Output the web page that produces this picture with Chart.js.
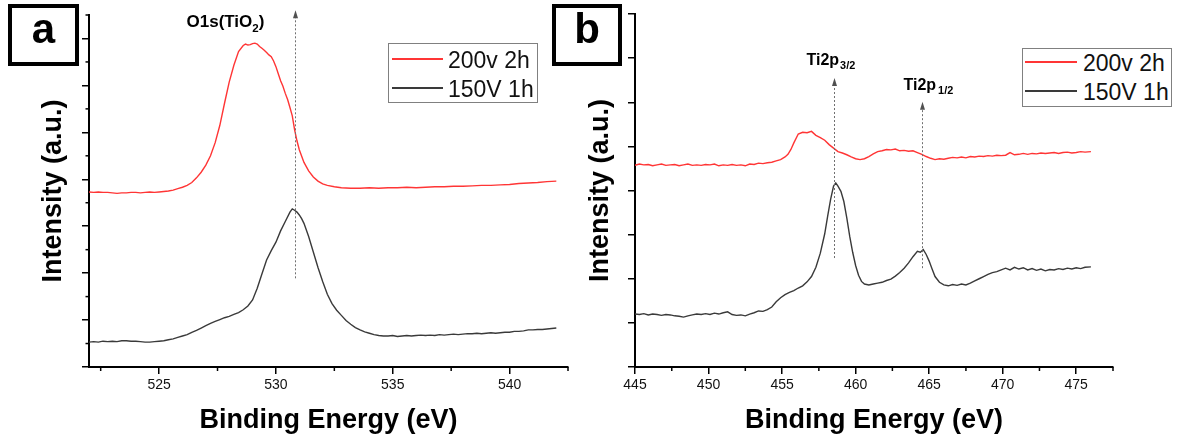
<!DOCTYPE html>
<html><head><meta charset="utf-8">
<script src="https://cdn.jsdelivr.net/npm/chart.js@4.4.1/dist/chart.umd.min.js"></script>
<style>
html,body{margin:0;padding:0;background:#fff;}
#wrap{position:relative;width:1182px;height:443px;overflow:hidden;font-family:Arial,"Liberation Sans",sans-serif;background:#fff;}
canvas{position:absolute;top:0;}
.tag{position:absolute;box-sizing:border-box;border:4px solid #000;font-weight:bold;font-size:42px;line-height:42px;text-align:center;color:#000;}
.legend{position:absolute;box-sizing:border-box;border:1px solid #808080;background:#fff;}
.legend .ln{position:absolute;height:2px;}
.legend .tx{position:absolute;font-size:23px;color:#111;line-height:28px;height:28px;white-space:nowrap;}
</style>
</head>
<body>
<div id="wrap">
  <canvas id="cA" width="590" height="443" style="left:0;width:590px;height:443px"></canvas>
  <canvas id="cB" width="612" height="443" style="left:570px;width:612px;height:443px"></canvas>
  <div class="tag" style="left:8px;top:4px;width:71px;height:62px;">a</div>
  <div class="tag" style="left:552px;top:4px;width:70px;height:62px;">b</div>
  <div id="legA" class="legend" style="left:388px;top:43px;width:150px;height:60px;"></div>
  <div id="legB" class="legend" style="left:1022px;top:48px;width:150px;height:59px;"></div>
</div>
<script>
// ---------------- DATA ----------------
const seriesNames = ['200v 2h', '150V 1h'];
const xTitle = 'Binding Energy (eV)';
const yTitle = 'Intensity (a.u.)';

// Panel a: O1s region
const xTicksA = [525, 530, 535, 540];
const xMinorA = [522.5, 527.5, 532.5, 537.5, 542.5];
const yMajorA = [0, 1, 2, 3, 4, 5, 6, 7];
const yMinorA = [0.5, 1.5, 2.5, 3.5, 4.5, 5.5, 6.5, 7.5];
const peaksA = [530.8];

const energyA_red = [522.0,522.2,522.4,522.6,522.8,523.0,523.2,523.4,523.6,523.8,524.0,524.2,524.4,524.6,524.8,525.0,525.2,525.4,525.6,525.8,526.0,526.2,526.4,526.6,526.8,527.0,527.2,527.4,527.6,527.8,528.0,528.2,528.4,528.6,528.7,528.8,528.9,529.0,529.1,529.2,529.3,529.4,529.5,529.6,529.7,529.8,529.9,530.0,530.1,530.2,530.3,530.4,530.5,530.6,530.7,530.8,530.9,531.0,531.2,531.4,531.6,531.8,532.0,532.2,532.5,532.8,533.2,533.6,534.0,534.4,534.8,535.2,535.6,536.0,536.4,536.8,537.2,537.6,538.0,538.4,538.8,539.2,539.6,540.0,540.4,540.8,541.2,541.6,542.0];
const intensityA_red = [3.73,3.72,3.73,3.72,3.72,3.71,3.70,3.71,3.71,3.72,3.72,3.71,3.72,3.73,3.72,3.73,3.74,3.75,3.77,3.80,3.83,3.87,3.93,4.03,4.15,4.30,4.50,4.78,5.15,5.62,6.07,6.43,6.72,6.85,6.88,6.86,6.87,6.89,6.90,6.88,6.83,6.79,6.75,6.70,6.65,6.61,6.52,6.40,6.25,6.10,5.98,5.83,5.70,5.53,5.35,5.05,4.82,4.63,4.36,4.18,4.05,3.96,3.90,3.87,3.84,3.82,3.81,3.81,3.82,3.81,3.82,3.82,3.83,3.82,3.83,3.84,3.84,3.85,3.85,3.86,3.87,3.87,3.88,3.89,3.91,3.92,3.93,3.95,3.96];

const energyA_black = [522.0,522.2,522.4,522.6,522.8,523.0,523.2,523.4,523.6,523.8,524.0,524.2,524.4,524.6,524.8,525.0,525.2,525.4,525.6,525.8,526.0,526.2,526.4,526.6,526.8,527.0,527.2,527.4,527.6,527.8,528.0,528.2,528.4,528.6,528.8,529.0,529.2,529.4,529.6,529.8,530.0,530.2,530.4,530.6,530.7,530.8,530.9,531.0,531.1,531.2,531.4,531.6,531.8,532.0,532.2,532.4,532.6,532.8,533.0,533.2,533.4,533.6,533.8,534.0,534.2,534.4,534.6,534.8,535.0,535.2,535.4,535.6,535.8,536.0,536.2,536.4,536.6,536.8,537.0,537.2,537.4,537.6,537.8,538.0,538.2,538.4,538.6,538.8,539.0,539.2,539.4,539.6,539.8,540.0,540.2,540.4,540.6,540.8,541.0,541.2,541.4,541.6,541.8,542.0];
const intensityA_black = [0.53,0.54,0.53,0.55,0.54,0.55,0.54,0.56,0.56,0.55,0.55,0.54,0.53,0.53,0.54,0.55,0.56,0.58,0.60,0.63,0.66,0.69,0.74,0.78,0.83,0.88,0.93,0.97,1.01,1.05,1.08,1.12,1.16,1.22,1.30,1.43,1.68,1.98,2.28,2.48,2.66,2.90,3.10,3.30,3.37,3.34,3.30,3.24,3.16,3.06,2.78,2.45,2.12,1.82,1.55,1.35,1.21,1.10,0.99,0.91,0.84,0.79,0.75,0.72,0.69,0.67,0.66,0.66,0.67,0.65,0.66,0.67,0.66,0.67,0.68,0.67,0.68,0.67,0.69,0.68,0.69,0.70,0.69,0.70,0.71,0.71,0.72,0.71,0.72,0.73,0.72,0.73,0.74,0.74,0.76,0.76,0.77,0.79,0.79,0.80,0.80,0.81,0.82,0.83];

// Panel b: Ti2p region
const xTicksB = [445, 450, 455, 460, 465, 470, 475];
const xMinorB = [447.5, 452.5, 457.5, 462.5, 467.5, 472.5, 477.5];
const yMajorB = [0, 1, 2, 3, 4, 5, 6, 7, 8];
const peaksB = [458.5, 464.5];

const energyB_red = [445.0,445.3,445.6,445.9,446.2,446.5,446.8,447.1,447.4,447.7,448.0,448.3,448.6,448.9,449.2,449.5,449.8,450.1,450.4,450.7,451.0,451.3,451.6,451.9,452.2,452.5,452.8,453.1,453.4,453.7,454.0,454.3,454.6,454.9,455.2,455.4,455.6,455.8,456.1,456.4,456.7,457.0,457.3,457.6,457.9,458.2,458.5,458.8,459.1,459.4,459.7,460.0,460.3,460.6,460.9,461.2,461.5,461.8,462.1,462.4,462.7,463.0,463.3,463.6,463.9,464.2,464.5,464.8,465.1,465.4,465.7,466.0,466.3,466.6,466.9,467.2,467.5,467.8,468.1,468.4,468.7,469.0,469.3,469.6,469.9,470.2,470.5,470.8,471.1,471.4,471.7,472.0,472.3,472.6,472.9,473.2,473.5,473.8,474.1,474.4,474.7,475.0,475.3,475.6,476.0];
const intensityB_red = [4.57,4.60,4.58,4.59,4.56,4.58,4.60,4.57,4.58,4.59,4.56,4.58,4.60,4.57,4.58,4.57,4.59,4.58,4.60,4.56,4.58,4.57,4.59,4.57,4.58,4.56,4.60,4.59,4.62,4.61,4.63,4.64,4.67,4.70,4.76,4.82,4.93,5.08,5.28,5.32,5.31,5.34,5.25,5.20,5.14,5.04,4.96,4.88,4.85,4.81,4.76,4.72,4.70,4.72,4.77,4.83,4.88,4.90,4.93,4.92,4.94,4.90,4.91,4.89,4.90,4.86,4.82,4.77,4.73,4.70,4.72,4.71,4.73,4.75,4.74,4.76,4.74,4.77,4.76,4.78,4.77,4.79,4.78,4.80,4.79,4.80,4.86,4.81,4.82,4.84,4.82,4.84,4.83,4.85,4.84,4.85,4.86,4.84,4.86,4.87,4.85,4.86,4.88,4.87,4.88];

const energyB_black = [445.0,445.3,445.6,445.9,446.2,446.5,446.8,447.1,447.4,447.7,448.0,448.3,448.6,448.9,449.2,449.5,449.8,450.1,450.4,450.7,451.0,451.3,451.6,451.9,452.2,452.5,452.8,453.1,453.4,453.7,454.0,454.3,454.6,454.9,455.2,455.5,455.8,456.1,456.4,456.7,457.0,457.3,457.6,457.9,458.1,458.3,458.5,458.65,458.8,459.0,459.2,459.4,459.6,459.8,460.0,460.2,460.4,460.6,460.9,461.2,461.5,461.8,462.1,462.4,462.7,463.0,463.3,463.6,463.9,464.2,464.4,464.6,464.8,465.0,465.2,465.4,465.7,466.0,466.3,466.6,466.9,467.2,467.5,467.8,468.1,468.4,468.7,469.0,469.3,469.6,469.9,470.2,470.5,470.8,471.1,471.4,471.7,472.0,472.3,472.6,472.9,473.2,473.5,473.8,474.1,474.4,474.7,475.0,475.3,475.6,476.0];
const intensityB_black = [1.20,1.19,1.21,1.18,1.20,1.19,1.17,1.19,1.18,1.16,1.15,1.13,1.16,1.18,1.20,1.19,1.21,1.19,1.22,1.20,1.23,1.25,1.19,1.17,1.18,1.16,1.20,1.23,1.27,1.26,1.30,1.36,1.48,1.57,1.64,1.69,1.73,1.79,1.84,1.93,2.05,2.26,2.58,3.02,3.42,3.80,4.10,4.17,4.10,3.98,3.75,3.38,2.96,2.60,2.30,2.08,1.94,1.88,1.86,1.88,1.90,1.92,1.96,1.99,2.06,2.14,2.24,2.36,2.50,2.62,2.60,2.66,2.55,2.40,2.22,2.05,1.92,1.86,1.84,1.87,1.85,1.88,1.86,1.90,1.95,2.00,2.05,2.10,2.14,2.16,2.20,2.24,2.20,2.26,2.22,2.25,2.20,2.23,2.19,2.22,2.18,2.21,2.20,2.23,2.21,2.24,2.22,2.25,2.23,2.26,2.27];

// ---------------- STYLE ----------------
const RED = '#ff3535';
const DARK = '#3a3a3a';
const FAM = 'Arial, "Liberation Sans", sans-serif';

function pairs(xs, ys) { return xs.map((x, i) => ({x: x, y: ys[i]})); }

const extrasPlugin = {
  id: 'extras',
  afterDraw(chart, args, opts) {
    const ctx = chart.ctx;
    const xs = chart.scales.x, ys = chart.scales.y;
    ctx.save();
    ctx.strokeStyle = '#000';
    ctx.lineWidth = 1.5;
    (opts.xMinor || []).forEach(v => {
      const px = xs.getPixelForValue(v);
      ctx.beginPath(); ctx.moveTo(px, chart.chartArea.bottom); ctx.lineTo(px, chart.chartArea.bottom + 4); ctx.stroke();
    });
    (opts.yMinor || []).forEach(v => {
      const py = ys.getPixelForValue(v);
      ctx.beginPath(); ctx.moveTo(chart.chartArea.left, py); ctx.lineTo(chart.chartArea.left - 3.5, py); ctx.stroke();
    });
    (opts.arrows || []).forEach(a => {
      const px = Math.round(xs.getPixelForValue(a.x)) + 0.5;
      const pTop = ys.getPixelForValue(a.top);
      const pBot = ys.getPixelForValue(a.bottom);
      ctx.strokeStyle = '#707070';
      ctx.lineWidth = 1;
      ctx.setLineDash([2, 2]);
      ctx.beginPath(); ctx.moveTo(px, pBot); ctx.lineTo(px, pTop + 5); ctx.stroke();
      ctx.setLineDash([]);
      ctx.fillStyle = '#505050';
      ctx.beginPath(); ctx.moveTo(px, pTop); ctx.lineTo(px - 2.5, pTop + 8); ctx.lineTo(px + 2.5, pTop + 8); ctx.closePath(); ctx.fill();
      if (a.label) {
        let x = px + a.dx;
        const y = pTop + a.dy;
        ctx.fillStyle = '#000';
        ctx.textBaseline = 'alphabetic';
        a.label.forEach(part => {
          ctx.font = 'bold ' + (part.sub ? a.size * 0.68 : a.size) + 'px ' + FAM;
          const yy = part.sub ? y + a.size * 0.28 : y;
          ctx.fillText(part.t, x, yy);
          x += ctx.measureText(part.t).width + (part.gap || 0);
        });
      }
    });
    ctx.restore();
  }
};

function makeChart(id, cfg) {
  const axisGrid = {drawOnChartArea: false, drawTicks: true, tickLength: 7, color: '#000', lineWidth: 1.5};
  return new Chart(document.getElementById(id), {
    type: 'line',
    data: {
      datasets: [
        {label: seriesNames[0], data: pairs(cfg.redX, cfg.redY), borderColor: RED, borderWidth: 1.4, pointRadius: 0, tension: 0, fill: false},
        {label: seriesNames[1], data: pairs(cfg.blackX, cfg.blackY), borderColor: DARK, borderWidth: 1.4, pointRadius: 0, tension: 0, fill: false}
      ]
    },
    options: {
      responsive: false,
      animation: false,
      events: [],
      layout: {padding: cfg.padding},
      plugins: {
        legend: {display: false},
        tooltip: {enabled: false},
        extras: {xMinor: cfg.xMinor, yMinor: cfg.yMinor, arrows: cfg.arrows}
      },
      scales: {
        x: {
          type: 'linear', min: cfg.xMin, max: cfg.xMax,
          afterBuildTicks: s => { s.ticks = cfg.xTicks.map(v => ({value: v})); },
          afterFit: s => { s.height = cfg.xHeight; },
          border: {display: true, color: '#000', width: 2},
          grid: axisGrid,
          ticks: {font: {size: 14, family: FAM}, color: '#111', padding: 3, maxRotation: 0, autoSkip: false},
          title: {display: true, text: xTitle, color: '#000', font: {size: 27, weight: 'bold', family: FAM}, padding: {top: 0, bottom: 6}}
        },
        y: {
          type: 'linear', min: cfg.yMin, max: cfg.yMax,
          afterBuildTicks: s => { s.ticks = cfg.yTicks.map(v => ({value: v})); },
          afterFit: s => { s.width = cfg.yWidth; },
          border: {display: true, color: '#000', width: 2},
          grid: axisGrid,
          ticks: {display: false},
          title: {display: true, text: yTitle, color: '#000', font: {size: 27, weight: 'bold', family: FAM}, padding: {top: cfg.yTitlePad, bottom: 0}}
        }
      }
    },
    plugins: [extrasPlugin]
  });
}

makeChart('cA', {
  redX: energyA_red, redY: intensityA_red, blackX: energyA_black, blackY: intensityA_black,
  xMin: 522, xMax: 542.5, yMin: 0, yMax: 7.5,
  xTicks: xTicksA, xMinor: xMinorA, yTicks: yMajorA, yMinor: yMinorA,
  padding: {left: 0, right: 22, top: 15, bottom: 0},
  xHeight: 76, yWidth: 89, yTitlePad: 37,
  arrows: [{x: peaksA[0], top: 7.6, bottom: 1.89, dx: -109, dy: 17, size: 17,
            label: [{t: 'O1s(TiO'}, {t: '2', sub: true}, {t: ')'}]}]
});

makeChart('cB', {
  redX: energyB_red, redY: intensityB_red, blackX: energyB_black, blackY: intensityB_black,
  xMin: 445, xMax: 477.5, yMin: 0, yMax: 8,
  xTicks: xTicksB, xMinor: xMinorB, yTicks: yMajorB, yMinor: [],
  padding: {left: 0, right: 69, top: 14, bottom: 0},
  xHeight: 76, yWidth: 65, yTitlePad: 14,
  arrows: [
    {x: peaksB[0], top: 6.55, bottom: 2.47, dx: -28, dy: -13, size: 16, label: [{t: 'Ti2p', gap: 1}, {t: '3/2', sub: true}]},
    {x: peaksB[1], top: 6.01, bottom: 2.24, dx: -19, dy: -12, size: 16, label: [{t: 'Ti2p', gap: 2}, {t: '1/2', sub: true}]}
  ]
});

function buildLegend(id, rowYs, lineLeft, lineW, textLeft) {
  const el = document.getElementById(id);
  [RED, DARK].forEach((c, i) => {
    const ln = document.createElement('div');
    ln.className = 'ln';
    ln.style.left = lineLeft + 'px';
    ln.style.width = lineW + 'px';
    ln.style.top = (rowYs[i] - 1) + 'px';
    ln.style.background = c;
    el.appendChild(ln);
    const tx = document.createElement('div');
    tx.className = 'tx';
    tx.textContent = seriesNames[i];
    tx.style.left = textLeft + 'px';
    tx.style.top = (rowYs[i] - 13) + 'px';
    el.appendChild(tx);
  });
}
buildLegend('legA', [15, 44], 3, 51, 59);
buildLegend('legB', [13, 42], 2, 52, 60);
</script>
</body></html>
